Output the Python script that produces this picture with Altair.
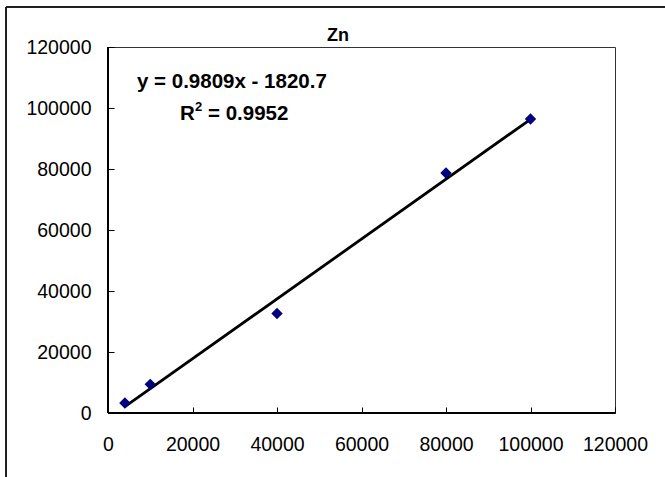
import altair as alt
import pandas as pd

# data
conc = [4000, 10000, 40000, 80000, 100000]
signal = [3300, 9400, 32600, 78700, 96400]
tick_values = [0, 20000, 40000, 60000, 80000, 100000, 120000]
title_text = "Zn"
equation_text = "y = 0.9809x - 1820.7"
r_text = "R"
r_sup = "2"
r_value_text = "= 0.9952"

df = pd.DataFrame({"x": conc, "y": signal})

FONT = "Liberation Sans"
W, H = 507, 366

xs = alt.Scale(domain=[0, 120000], nice=False, zero=True)
ys = alt.Scale(domain=[0, 120000], nice=False, zero=True)

x_axis = alt.Axis(values=tick_values, format="d", title=None, grid=False, domain=False,
                  offset=-6, tickSize=6, tickColor="#000", tickWidth=1,
                  labelOverlap=False, labelFlush=False,
                  labelFont=FONT, labelFontSize=19.5, labelColor="#000", labelPadding=22)
y_axis = alt.Axis(values=tick_values, format="d", title=None, grid=False, domain=False,
                  offset=-6, tickSize=6, tickColor="#000", tickWidth=1,
                  labelOverlap=False, labelFlush=False,
                  labelFont=FONT, labelFontSize=19.5, labelColor="#000", labelPadding=17)

base = alt.Chart(df)

points = base.mark_point(shape="diamond", filled=True, color="#000080", size=130, opacity=1).encode(
    x=alt.X("x:Q", scale=xs, axis=x_axis),
    y=alt.Y("y:Q", scale=ys, axis=y_axis),
)

trend = base.transform_regression("x", "y", method="linear").mark_line(
    color="#000", strokeWidth=2.8
).encode(
    x=alt.X("x:Q", scale=xs),
    y=alt.Y("y:Q", scale=ys),
)

bottom_axis = base.mark_rule(color="#000", strokeWidth=2).encode(
    x=alt.value(0), x2=alt.value(W), y=alt.value(H)
)
left_axis = base.mark_rule(color="#000", strokeWidth=1.5).encode(
    x=alt.value(0), y=alt.value(0), y2=alt.value(H)
)

frame_top = base.mark_rule(color="#222", strokeWidth=1.5).encode(
    x=alt.value(-102), x2=alt.value(600), y=alt.value(-40)
)
frame_left = base.mark_rule(color="#222", strokeWidth=1.5).encode(
    x=alt.value(-102), y=alt.value(-40), y2=alt.value(480)
)

def label(text, x, y, size, bold=True, align="left"):
    return alt.Chart(pd.DataFrame({"t": [text]})).mark_text(
        font=FONT, fontSize=size, fontWeight="bold" if bold else "normal",
        align=align, baseline="alphabetic", color="#000"
    ).encode(text="t:N", x=alt.value(x), y=alt.value(y))

title = label(title_text, 230, -6, 18, align="center")
eq = label(equation_text, 29, 41, 20.5)
r1 = label(r_text, 72, 73, 20.5)
r2 = label(r_sup, 87, 64, 13)
r3 = label(r_value_text, 100, 73, 20.5)

chart = alt.layer(frame_top, frame_left, trend, points, bottom_axis, left_axis,
                  title, eq, r1, r2, r3).properties(
    width=W, height=H,
    autosize=alt.AutoSizeParams(type="none"),
    padding={"left": 108, "top": 47, "right": 50, "bottom": 64},
    background="white",
).configure_view(stroke="#333", strokeWidth=1)

chart.save("out.html", embed_options={"renderer": "svg", "actions": False})
